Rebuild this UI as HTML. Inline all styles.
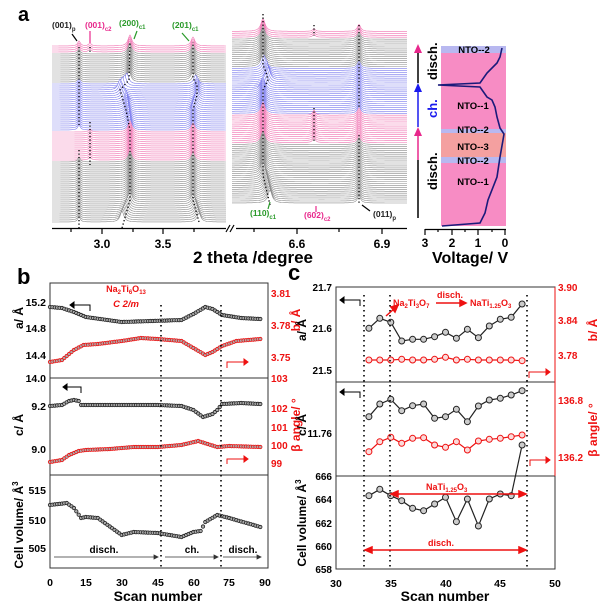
<!DOCTYPE html>
<html><head><meta charset="utf-8"><style>
html,body{margin:0;padding:0;background:#fff;width:600px;height:604px;overflow:hidden}
svg{display:block}
text{font-family:"Liberation Sans",sans-serif;font-weight:bold}
</style></head><body>
<svg id="s" width="600" height="604" viewBox="0 0 600 604" xmlns="http://www.w3.org/2000/svg">
<g id="traces"></g>
<text x="18" y="21" font-size="20">a</text>
<g font-size="8.5">
<text x="52" y="28" fill="#222">(001)<tspan font-size="6" dy="3">p</tspan></text>
<text x="85" y="28" fill="#e8288c">(001)<tspan font-size="6" dy="3">c2</tspan></text>
<text x="119" y="26" fill="#2a9a2a">(200)<tspan font-size="6" dy="3">c1</tspan></text>
<text x="172" y="28" fill="#2a9a2a">(201)<tspan font-size="6" dy="3">c1</tspan></text>
<text x="250" y="216" fill="#2a9a2a">(110)<tspan font-size="6" dy="3">c1</tspan></text>
<text x="304" y="218" fill="#e8288c">(602)<tspan font-size="6" dy="3">c2</tspan></text>
<text x="373" y="217" fill="#222">(011)<tspan font-size="6" dy="3">p</tspan></text>
</g>
<g stroke-width="1.2" fill="none">
<line x1="72" y1="34" x2="77" y2="41" stroke="#000"/>
<line x1="90" y1="31" x2="90" y2="43" stroke="#e8288c"/>
<line x1="137" y1="31" x2="134" y2="39" stroke="#2a9a2a"/>
<line x1="182" y1="33" x2="189" y2="41" stroke="#2a9a2a"/>
<line x1="268" y1="209" x2="270" y2="202" stroke="#2a9a2a"/>
<line x1="316" y1="212" x2="316" y2="206" stroke="#e8288c"/>
<line x1="370" y1="211" x2="362" y2="205" stroke="#000"/>
</g>
<g stroke="#000" stroke-width="1.2">
<line x1="52" y1="228.5" x2="226" y2="228.5"/>
<line x1="236" y1="228.5" x2="407" y2="228.5"/>
<line x1="226" y1="232" x2="230" y2="225"/><line x1="230" y1="232" x2="234" y2="225"/>
<line x1="71" y1="228" x2="71" y2="232"/><line x1="102" y1="228" x2="102" y2="234"/>
<line x1="133" y1="228" x2="133" y2="232"/><line x1="163" y1="228" x2="163" y2="234"/>
<line x1="194" y1="228" x2="194" y2="232"/>
<line x1="254" y1="228" x2="254" y2="232"/><line x1="297" y1="228" x2="297" y2="234"/>
<line x1="339" y1="228" x2="339" y2="232"/><line x1="382" y1="228" x2="382" y2="234"/>
</g>
<g font-size="12" text-anchor="middle">
<text x="102" y="248">3.0</text><text x="163" y="248">3.5</text>
<text x="297" y="248">6.6</text><text x="382" y="248">6.9</text>
</g>
<text x="193" y="263" font-size="17">2 theta /degree</text>
<rect x="441" y="46" width="65" height="180" fill="#f78cc4"/>
<rect x="441" y="46" width="65" height="7" fill="#b8b8f0"/>
<rect x="441" y="129" width="65" height="4" fill="#b8b8f0"/>
<rect x="441" y="133" width="65" height="24" fill="#f4a0a0"/>
<rect x="441" y="157" width="65" height="6" fill="#b8b8f0"/>
<g font-size="9.5" text-anchor="middle">
<text x="474" y="53">NTO--2</text><text x="473" y="109">NTO--1</text>
<text x="473" y="133">NTO--2</text><text x="473" y="150">NTO--3</text>
<text x="473" y="164">NTO--2</text><text x="473" y="185">NTO--1</text>
</g>
<path d="M442,226 L480,223 L485,213 L488,200 L497,177 L500,157 L503,140 L504,134 L500,128 L497,117 L495,107 L492,100 L487,97 L480,87 L438,85 L480,83 L487,73 L497,63 L500,57 L502,48" fill="none" stroke="#1a1a7a" stroke-width="1.6"/>
<g stroke="#000" stroke-width="1.2">
<line x1="425" y1="229.5" x2="506" y2="229.5"/>
<line x1="425" y1="229" x2="425" y2="235"/><line x1="452" y1="229" x2="452" y2="235"/>
<line x1="478" y1="229" x2="478" y2="235"/><line x1="505" y1="229" x2="505" y2="235"/>
<line x1="438" y1="229" x2="438" y2="232"/><line x1="465" y1="229" x2="465" y2="232"/><line x1="492" y1="229" x2="492" y2="232"/>
</g>
<g font-size="12" text-anchor="middle"><text x="425" y="247">3</text><text x="452" y="247">2</text><text x="478" y="247">1</text><text x="505" y="247">0</text></g>
<text x="432" y="263" font-size="16">Voltage/ V</text>
<g stroke-width="1.5">
<line x1="418" y1="218" x2="418" y2="160" stroke="#000"/>
<line x1="418" y1="160" x2="418" y2="133" stroke="#e8288c"/>
<path d="M414,136 L418,127 L422,136Z" fill="#e8288c" stroke="none"/>
<line x1="418" y1="127" x2="418" y2="90" stroke="#1a1aee"/>
<path d="M414,92 L418,83 L422,92Z" fill="#1a1aee" stroke="none"/>
<line x1="418" y1="83" x2="418" y2="52" stroke="#000"/>
<path d="M414,53 L418,44 L422,53Z" fill="#e8288c" stroke="none"/>
</g>
<g font-size="13">
<text transform="translate(437,80) rotate(-90)">disch.</text>
<text transform="translate(437,118) rotate(-90)" fill="#1a1aee">ch.</text>
<text transform="translate(437,190) rotate(-90)">disch.</text>
</g>

<text x="17" y="284" font-size="22">b</text>
<rect x="50" y="283" width="218" height="285" fill="none" stroke="#333" stroke-width="1"/>
<line x1="50" y1="378" x2="268" y2="378" stroke="#333"/>
<line x1="50" y1="475" x2="268" y2="475" stroke="#333"/>
<g id="bseries"></g>
<g font-size="10.5" text-anchor="end">
<text x="46" y="306">15.2</text><text x="46" y="332">14.8</text><text x="46" y="359">14.4</text><text x="46" y="382">14.0</text>
<text x="46" y="410">9.2</text><text x="46" y="453">9.0</text>
<text x="46" y="494">515</text><text x="46" y="524">510</text><text x="46" y="552">505</text>
</g>
<g font-size="10" fill="#ee1111">
<text x="271" y="297">3.81</text><text x="271" y="329">3.78</text><text x="271" y="361">3.75</text><text x="271" y="382">103</text>
<text x="271" y="412">102</text><text x="271" y="431">101</text><text x="271" y="449">100</text><text x="271" y="467">99</text>
</g>
<g font-size="10.5" text-anchor="middle">
<text x="50" y="586">0</text><text x="86" y="586">15</text><text x="122" y="586">30</text><text x="158" y="586">45</text>
<text x="194" y="586">60</text><text x="229" y="586">75</text><text x="265" y="586">90</text>
</g>
<text x="158" y="601" font-size="14" text-anchor="middle">Scan number</text>
<g font-size="12" text-anchor="middle">
<text transform="translate(23,318) rotate(-90)">a/ Å</text>
<text transform="translate(23,425) rotate(-90)">c/ Å</text>
<text transform="translate(23,525) rotate(-90)">Cell volume/ Å<tspan font-size="8" dy="-5">3</tspan></text>
<text transform="translate(300,320) rotate(-90)" fill="#ee1111">b/ Å</text>
<text transform="translate(300,425) rotate(-90)" fill="#ee1111">β angle/ °</text>
</g>
<text x="126" y="292" font-size="9" fill="#ee1111" text-anchor="middle">Na<tspan font-size="6" dy="2">2</tspan><tspan dy="-2">Ti</tspan><tspan font-size="6" dy="2">6</tspan><tspan dy="-2">O</tspan><tspan font-size="6" dy="2">13</tspan></text>
<text x="126" y="307" font-size="9.5" fill="#ee1111" text-anchor="middle" font-style="italic">C 2/m</text>
<g stroke-width="1" fill="none">
<path d="M72,305 L90,305 L90,311" stroke="#000"/><path d="M74,302 L70,305 L74,308Z" fill="#000" stroke="#000"/>
<path d="M65,387 L81,387 L81,393" stroke="#000"/><path d="M67,384 L63,387 L67,390Z" fill="#000" stroke="#000"/>
<path d="M227,368 L227,362 L246,362" stroke="#ee1111"/><path d="M244,359 L248,362 L244,365Z" fill="#ee1111" stroke="#ee1111"/>
<path d="M227,464 L227,459 L246,459" stroke="#ee1111"/><path d="M244,456 L248,459 L244,462Z" fill="#ee1111" stroke="#ee1111"/>
</g>
<g stroke="#000" stroke-width="1.6" stroke-dasharray="1.5,3.5">
<line x1="161" y1="305" x2="161" y2="568"/><line x1="221" y1="305" x2="221" y2="568"/>
</g>
<g stroke="#333" stroke-width="0.8" fill="#333">
<line x1="54" y1="557" x2="157" y2="557"/><path d="M154,555 L158,557 L154,559Z"/>
<line x1="165" y1="557" x2="217" y2="557"/><path d="M214,555 L218,557 L214,559Z"/>
<line x1="223" y1="557" x2="260" y2="557"/><path d="M257,555 L261,557 L257,559Z"/>
</g>
<g font-size="10" text-anchor="middle"><text x="104" y="553">disch.</text><text x="192" y="553">ch.</text><text x="243" y="553">disch.</text></g>

<text x="288" y="280" font-size="22">c</text>
<rect x="336" y="287" width="219" height="282" fill="none" stroke="#333" stroke-width="1"/>
<line x1="336" y1="382" x2="555" y2="382" stroke="#333"/>
<line x1="336" y1="476" x2="555" y2="476" stroke="#333"/>
<line x1="555" y1="287" x2="555" y2="476" stroke="#ee1111"/>
<g id="cseries"></g>
<g font-size="10" text-anchor="end">
<text x="332" y="291">21.7</text><text x="332" y="332">21.6</text><text x="332" y="374">21.5</text>
<text x="332" y="437">11.76</text><text x="332" y="480">666</text>
<text x="332" y="503">664</text><text x="332" y="527">662</text><text x="332" y="550">660</text><text x="332" y="573">658</text>
</g>
<g font-size="10" fill="#ee1111">
<text x="558" y="291">3.90</text><text x="558" y="324">3.84</text><text x="558" y="359">3.78</text>
<text x="558" y="404">136.8</text><text x="558" y="461">136.2</text>
</g>
<g font-size="10.5" text-anchor="middle">
<text x="336" y="587">30</text><text x="391" y="587">35</text><text x="446" y="587">40</text><text x="500" y="587">45</text><text x="555" y="587">50</text>
</g>
<text x="445" y="601" font-size="14" text-anchor="middle">Scan number</text>
<g font-size="12" text-anchor="middle">
<text transform="translate(306,330) rotate(-90)">a/ Å</text>
<text transform="translate(306,425) rotate(-90)">c/ Å</text>
<text transform="translate(306,523) rotate(-90)">Cell volume/ Å<tspan font-size="8" dy="-5">3</tspan></text>
<text transform="translate(597,330) rotate(-90)" fill="#ee1111">b/ Å</text>
<text transform="translate(597,430) rotate(-90)" fill="#ee1111">β angle/ °</text>
</g>
<g stroke-width="1" fill="none">
<path d="M342,300 L360,300 L360,306" stroke="#000"/><path d="M344,297 L340,300 L344,303Z" fill="#000" stroke="#000"/>
<path d="M342,392 L360,392 L360,398" stroke="#000"/><path d="M344,389 L340,392 L344,395Z" fill="#000" stroke="#000"/>
<path d="M529,378 L529,372 L548,372" stroke="#ee1111"/><path d="M546,369 L550,372 L546,375Z" fill="#ee1111" stroke="#ee1111"/>
<path d="M530,466 L530,460 L548,460" stroke="#ee1111"/><path d="M546,457 L550,460 L546,463Z" fill="#ee1111" stroke="#ee1111"/>
</g>
<g stroke="#000" stroke-width="1.6" stroke-dasharray="1.5,3.5">
<line x1="364" y1="295" x2="364" y2="569"/><line x1="390" y1="295" x2="390" y2="569"/><line x1="527" y1="295" x2="527" y2="569"/>
</g>
<g font-size="9" fill="#ee1111">
<text x="393" y="306">Na<tspan font-size="6" dy="2">2</tspan><tspan dy="-2">Ti</tspan><tspan font-size="6" dy="2">3</tspan><tspan dy="-2">O</tspan><tspan font-size="6" dy="2">7</tspan></text>
<text x="437" y="298">disch.</text>
<text x="470" y="306">NaTi<tspan font-size="6" dy="2">1.25</tspan><tspan dy="-2">O</tspan><tspan font-size="6" dy="2">3</tspan></text>
<text x="426" y="490">NaTi<tspan font-size="6" dy="2">1.25</tspan><tspan dy="-2">O</tspan><tspan font-size="6" dy="2">3</tspan></text>
<text x="428" y="546">disch.</text>
</g>
<g stroke="#ee1111" stroke-width="1.5" fill="#ee1111">
<line x1="436" y1="303" x2="462" y2="303"/><path d="M460,300 L466,303 L460,306Z"/>
<line x1="386" y1="316" x2="395" y2="308"/><path d="M391,307 L398,305 L395,312Z"/>
<line x1="395" y1="494" x2="522" y2="494"/><path d="M398,491 L391,494 L398,497Z"/><path d="M519,491 L526,494 L519,497Z"/>
<line x1="369" y1="550" x2="522" y2="550"/><path d="M372,547 L365,550 L372,553Z"/><path d="M519,547 L526,550 L519,553Z"/>
</g>
</svg>
<script>
(function(){
var NS="http://www.w3.org/2000/svg";
function el(p,t,a){var e=document.createElementNS(NS,t);for(var k in a)e.setAttribute(k,a[k]);p.appendChild(e);return e;}
function lerp(pts,x){for(var i=0;i<pts.length-1;i++){if(x>=pts[i][0]&&x<=pts[i+1][0]){var t=(x-pts[i][0])/(pts[i+1][0]-pts[i][0]);return pts[i][1]+t*(pts[i+1][1]-pts[i][1]);}}return x<pts[0][0]?pts[0][1]:pts[pts.length-1][1];}
function col(i){if(i<31)return"#8a8a8a";if(i<46)return"#f070b0";if(i<70)return"#7c7cee";if(i<85)return"#8a8a8a";return"#f070b0";}
var g=document.getElementById("traces");
function pk(x,c,h,w){var d=(x-c)/w;return h/(1+d*d);}
var N=89;
for(var i=N-1;i>=0;i--){
  var yb=222-i*2.0;
  var p200=lerp([[0,122],[10,130],[46,130],[60,126],[66,120],[70,129],[89,130]],i);
  var p201=lerp([[0,199],[10,193],[55,193],[62,197],[68,197],[71,193],[89,193]],i);
  var h001=(i>=31&&i<46)?0:5;
  var hc2=(i>=31&&i<46)||i>=85?3:0;
  var pts=[];
  for(var x=52;x<=226;x+=1){var y=yb-pk(x,79,h001,1.6)-pk(x,90,hc2,1.5)-pk(x,p200,11,2.2)-pk(x,p201,9,2.2);pts.push(x+","+y.toFixed(1));}
  el(g,"path",{d:"M52,"+(yb+3)+" L"+pts.join(" L")+" L226,"+(yb+3)+"Z",fill:"#fff",stroke:"none"});
  el(g,"polyline",{points:pts.join(" "),fill:"none",stroke:col(i),"stroke-width":"0.6"});
  var yr=203-i*1.95;
  var p110=lerp([[0,270],[15,263],[58,263],[63,268],[67,266],[70,263],[89,263]],i);
  var h602=(i>=31&&i<46)?5:(i>=85?3:0);
  var pts2=[];
  for(var x=232;x<=407;x+=1){var y=yr-pk(x,p110,13,2.5)-pk(x,314,h602,1.5)-pk(x,359,7,2);pts2.push(x+","+y.toFixed(1));}
  el(g,"path",{d:"M232,"+(yr+3)+" L"+pts2.join(" L")+" L407,"+(yr+3)+"Z",fill:"#fff",stroke:"none"});
  el(g,"polyline",{points:pts2.join(" "),fill:"none",stroke:col(i),"stroke-width":"0.6"});
}
var dl=[[79,47,125],[79,150,228],[90,47,53],[90,122,165],[359,25,108],[359,135,205],[314,25,36],[314,108,142]];
dl.forEach(function(l){el(g,"line",{x1:l[0],y1:l[1],x2:l[0],y2:l[2],stroke:"#000","stroke-width":"1.3","stroke-dasharray":"1.3,2.2"});});
var dp=[[[122,228],[130,200],[130,130],[126,110],[120,90],[129,80],[130,42]],[[199,222],[193,200],[193,110],[197,95],[197,85],[193,78],[193,42]],[[270,205],[263,175],[263,90],[268,80],[266,72],[263,65],[263,14]]];
dp.forEach(function(p){el(g,"polyline",{points:p.map(function(q){return q.join(",")}).join(" "),fill:"none",stroke:"#000","stroke-width":"1.3","stroke-dasharray":"1.3,2.2"});});
var gb=document.getElementById("bseries");
function bx(s){return 50+s*2.39;}
var series=[
 {p:[[0,307],[5,308],[10,312],[15,317],[30,322],[55,320],[60,314],[65,307],[68,309],[72,315],[80,318],[88,319]],c:"#222"},
 {p:[[0,362],[5,360],[10,350],[14,345],[20,344],[30,341],[38,338],[45,339],[55,341],[60,348],[65,355],[68,352],[72,346],[78,341],[88,339]],c:"#ee1111"},
 {p:[[0,406],[5,405],[8,401],[10,400],[12,401],[13,405],[15,405],[45,405],[55,406],[60,410],[64,417],[68,414],[70,410],[72,404],[80,403],[88,404]],c:"#222"},
 {p:[[0,462],[5,460],[8,455],[12,451],[15,450],[25,449],[35,447],[45,447],[55,445],[62,441],[66,444],[70,447],[75,446],[88,447]],c:"#ee1111"},
 {p:[[0,505],[7,503],[10,508],[13,518],[15,517],[20,518],[30,535],[35,532],[45,533],[55,537],[60,532],[63,531],[65,522],[70,515],[75,518],[88,527]],c:"#222"}
];
series.forEach(function(s){for(var k=0;k<=88;k++){el(gb,"circle",{cx:bx(k).toFixed(1),cy:lerp(s.p,k).toFixed(1),r:"1.7",fill:"#aaa",stroke:s.c,"stroke-width":"0.8"});}});
var gc=document.getElementById("cseries");
function cx(s){return 336+(s-30)*10.95;}
var cs=[
 {v:[205,175,187,243,238,238,230,217,235,208,233,198,178,172,132],c:"#222"},
 {v:[300,300,300,298,300,300,298,292,300,298,300,300,300,300,302],c:"#ee1111"},
 {v:[470,432,418,452,437,432,475,470,448,485,438,420,415,405,392],c:"#222"},
 {v:[575,545,532,550,535,533,555,562,545,570,543,538,535,530,525],c:"#ee1111"},
 {v:[707,688,707,722,745,752,732,712,785,717,798,717,702,707,555],c:"#222"}
];
cs.forEach(function(s){var pts=s.v.map(function(v,k){return [cx(33+k),260+v/3];});
 el(gc,"polyline",{points:pts.map(function(q){return q[0].toFixed(1)+","+q[1].toFixed(1)}).join(" "),fill:"none",stroke:s.c,"stroke-width":"1.2"});
 pts.forEach(function(q){el(gc,"circle",{cx:q[0].toFixed(1),cy:q[1].toFixed(1),r:"3",fill:s.c=="#222"?"#ccc":"#fbdada",stroke:s.c,"stroke-width":"1"});});});
})();
</script>
</body></html>
